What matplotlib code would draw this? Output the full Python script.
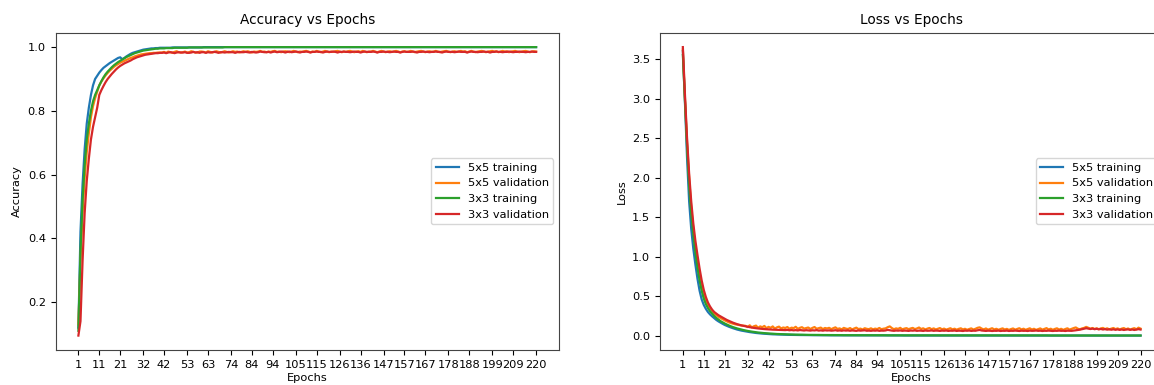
import numpy as np
import matplotlib
matplotlib.use("Agg")
import matplotlib.pyplot as plt

# epochs 1..220, tick labels as printed under both panels
epochs = np.arange(1, 221)
tick_labels = ["1", "11", "21", "32", "42", "53", "63", "74", "84", "94", "105",
               "115", "126", "136", "147", "157", "167", "178", "188", "199", "209", "220"]
series_names = ["5x5 training", "5x5 validation", "3x3 training", "3x3 validation"]

acc_5x5_train = [
    0.12, 0.42, 0.57, 0.68, 0.76, 0.81, 0.85, 0.88, 0.90, 0.91,
    0.92, 0.928, 0.935, 0.94, 0.945, 0.95, 0.954, 0.958, 0.962, 0.966,
    0.968, 0.962, 0.966, 0.971, 0.975, 0.979, 0.982, 0.984, 0.986, 0.988,
    0.99, 0.992, 0.993, 0.994, 0.995, 0.996, 0.996, 0.997, 0.997, 0.998,
    0.998, 0.998, 0.998, 0.998, 0.998, 0.999, 0.999, 0.999, 0.999, 0.999,
    0.999, 0.999, 0.999, 0.999, 0.999, 0.999, 0.999, 0.999, 0.999, 0.999,
    1.0, 1.0, 1.0, 1.0, 1.0, 1.0, 1.0, 1.0, 1.0, 1.0,
    1.0, 1.0, 1.0, 1.0, 1.0, 1.0, 1.0, 1.0, 1.0, 1.0,
    1.0, 1.0, 1.0, 1.0, 1.0, 1.0, 1.0, 1.0, 1.0, 1.0,
    1.0, 1.0, 1.0, 1.0, 1.0, 1.0, 1.0, 1.0, 1.0, 1.0,
    1.0, 1.0, 1.0, 1.0, 1.0, 1.0, 1.0, 1.0, 1.0, 1.0,
    1.0, 1.0, 1.0, 1.0, 1.0, 1.0, 1.0, 1.0, 1.0, 1.0,
    1.0, 1.0, 1.0, 1.0, 1.0, 1.0, 1.0, 1.0, 1.0, 1.0,
    1.0, 1.0, 1.0, 1.0, 1.0, 1.0, 1.0, 1.0, 1.0, 1.0,
    1.0, 1.0, 1.0, 1.0, 1.0, 1.0, 1.0, 1.0, 1.0, 1.0,
    1.0, 1.0, 1.0, 1.0, 1.0, 1.0, 1.0, 1.0, 1.0, 1.0,
    1.0, 1.0, 1.0, 1.0, 1.0, 1.0, 1.0, 1.0, 1.0, 1.0,
    1.0, 1.0, 1.0, 1.0, 1.0, 1.0, 1.0, 1.0, 1.0, 1.0,
    1.0, 1.0, 1.0, 1.0, 1.0, 1.0, 1.0, 1.0, 1.0, 1.0,
    1.0, 1.0, 1.0, 1.0, 1.0, 1.0, 1.0, 1.0, 1.0, 1.0,
    1.0, 1.0, 1.0, 1.0, 1.0, 1.0, 1.0, 1.0, 1.0, 1.0,
    1.0, 1.0, 1.0, 1.0, 1.0, 1.0, 1.0, 1.0, 1.0, 1.0,
]

acc_5x5_val = [
    0.13, 0.33, 0.48, 0.59, 0.67, 0.73, 0.78, 0.815, 0.84, 0.86,
    0.88, 0.892, 0.902, 0.911, 0.919, 0.926, 0.932, 0.938, 0.943, 0.947,
    0.951, 0.954, 0.957, 0.96, 0.963, 0.966, 0.968, 0.971, 0.973, 0.975,
    0.977, 0.978, 0.979, 0.98, 0.981, 0.981, 0.982, 0.982, 0.983, 0.983,
    0.983, 0.985, 0.982, 0.986, 0.984, 0.982, 0.985, 0.987, 0.984, 0.983,
    0.984, 0.986, 0.983, 0.984, 0.987, 0.985, 0.983, 0.983, 0.986, 0.986,
    0.985, 0.983, 0.987, 0.985, 0.983, 0.985, 0.987, 0.985, 0.983, 0.985,
    0.987, 0.985, 0.983, 0.985, 0.987, 0.985, 0.986, 0.983, 0.985, 0.987,
    0.985, 0.987, 0.985, 0.983, 0.986, 0.985, 0.986, 0.988, 0.985, 0.986,
    0.984, 0.986, 0.985, 0.987, 0.988, 0.985, 0.986, 0.984, 0.986, 0.987,
    0.986, 0.984, 0.986, 0.988, 0.986, 0.984, 0.986, 0.985, 0.987, 0.988,
    0.986, 0.984, 0.986, 0.985, 0.988, 0.986, 0.984, 0.986, 0.988, 0.986,
    0.984, 0.986, 0.985, 0.987, 0.988, 0.986, 0.984, 0.986, 0.985, 0.987,
    0.988, 0.986, 0.984, 0.986, 0.987, 0.985, 0.988, 0.986, 0.984, 0.986,
    0.986, 0.988, 0.986, 0.984, 0.986, 0.988, 0.986, 0.984, 0.986, 0.987,
    0.985, 0.986, 0.988, 0.986, 0.984, 0.986, 0.987, 0.985, 0.986, 0.988,
    0.986, 0.984, 0.986, 0.987, 0.988, 0.986, 0.984, 0.986, 0.987, 0.985,
    0.986, 0.988, 0.986, 0.984, 0.986, 0.987, 0.988, 0.986, 0.984, 0.986,
    0.987, 0.985, 0.986, 0.988, 0.986, 0.987, 0.984, 0.986, 0.988, 0.986,
    0.984, 0.986, 0.987, 0.988, 0.986, 0.984, 0.986, 0.987, 0.988, 0.986,
    0.987, 0.984, 0.986, 0.988, 0.986, 0.987, 0.984, 0.986, 0.987, 0.988,
    0.986, 0.984, 0.986, 0.987, 0.988, 0.986, 0.984, 0.986, 0.987, 0.986,
]

acc_3x3_train = [
    0.11, 0.36, 0.52, 0.63, 0.71, 0.76, 0.80, 0.83, 0.85, 0.865,
    0.88, 0.893, 0.905, 0.915, 0.923, 0.93, 0.937, 0.943, 0.948, 0.953,
    0.957, 0.961, 0.965, 0.969, 0.972, 0.975, 0.978, 0.981, 0.983, 0.985,
    0.987, 0.989, 0.99, 0.991, 0.992, 0.993, 0.994, 0.995, 0.995, 0.996,
    0.996, 0.996, 0.997, 0.997, 0.997, 0.997, 0.998, 0.998, 0.998, 0.998,
    0.998, 0.998, 0.998, 0.999, 0.999, 0.999, 0.999, 0.999, 0.999, 0.999,
    0.999, 0.999, 0.999, 0.999, 0.999, 0.999, 0.999, 0.999, 0.999, 0.999,
    1.0, 1.0, 1.0, 1.0, 1.0, 1.0, 1.0, 1.0, 1.0, 1.0,
    1.0, 1.0, 1.0, 1.0, 1.0, 1.0, 1.0, 1.0, 1.0, 1.0,
    1.0, 1.0, 1.0, 1.0, 1.0, 1.0, 1.0, 1.0, 1.0, 1.0,
    1.0, 1.0, 1.0, 1.0, 1.0, 1.0, 1.0, 1.0, 1.0, 1.0,
    1.0, 1.0, 1.0, 1.0, 1.0, 1.0, 1.0, 1.0, 1.0, 1.0,
    1.0, 1.0, 1.0, 1.0, 1.0, 1.0, 1.0, 1.0, 1.0, 1.0,
    1.0, 1.0, 1.0, 1.0, 1.0, 1.0, 1.0, 1.0, 1.0, 1.0,
    1.0, 1.0, 1.0, 1.0, 1.0, 1.0, 1.0, 1.0, 1.0, 1.0,
    1.0, 1.0, 1.0, 1.0, 1.0, 1.0, 1.0, 1.0, 1.0, 1.0,
    1.0, 1.0, 1.0, 1.0, 1.0, 1.0, 1.0, 1.0, 1.0, 1.0,
    1.0, 1.0, 1.0, 1.0, 1.0, 1.0, 1.0, 1.0, 1.0, 1.0,
    1.0, 1.0, 1.0, 1.0, 1.0, 1.0, 1.0, 1.0, 1.0, 1.0,
    1.0, 1.0, 1.0, 1.0, 1.0, 1.0, 1.0, 1.0, 1.0, 1.0,
    1.0, 1.0, 1.0, 1.0, 1.0, 1.0, 1.0, 1.0, 1.0, 1.0,
    1.0, 1.0, 1.0, 1.0, 1.0, 1.0, 1.0, 1.0, 1.0, 1.0,
]

acc_3x3_val = [
    0.095, 0.14, 0.33, 0.48, 0.58, 0.65, 0.71, 0.75, 0.78, 0.81,
    0.85, 0.865, 0.878, 0.89, 0.90, 0.908, 0.916, 0.923, 0.93, 0.936,
    0.941, 0.945, 0.949, 0.952, 0.955, 0.958, 0.962, 0.965, 0.968, 0.97,
    0.972, 0.974, 0.976, 0.977, 0.978, 0.979, 0.98, 0.981, 0.981, 0.982,
    0.982, 0.983, 0.981, 0.983, 0.984, 0.983, 0.981, 0.983, 0.984, 0.983,
    0.983, 0.984, 0.982, 0.982, 0.983, 0.985, 0.983, 0.984, 0.982, 0.984,
    0.984, 0.982, 0.984, 0.983, 0.984, 0.985, 0.984, 0.982, 0.984, 0.984,
    0.983, 0.984, 0.985, 0.984, 0.984, 0.982, 0.984, 0.985, 0.984, 0.984,
    0.985, 0.984, 0.983, 0.985, 0.984, 0.983, 0.984, 0.986, 0.985, 0.984,
    0.984, 0.985, 0.983, 0.985, 0.986, 0.984, 0.985, 0.986, 0.985, 0.983,
    0.985, 0.986, 0.984, 0.985, 0.986, 0.985, 0.983, 0.985, 0.985, 0.986,
    0.985, 0.983, 0.985, 0.985, 0.986, 0.985, 0.985, 0.983, 0.985, 0.986,
    0.985, 0.985, 0.986, 0.985, 0.983, 0.985, 0.985, 0.986, 0.985, 0.985,
    0.984, 0.985, 0.986, 0.985, 0.985, 0.983, 0.985, 0.986, 0.985, 0.985,
    0.985, 0.986, 0.985, 0.983, 0.985, 0.985, 0.986, 0.985, 0.985, 0.984,
    0.985, 0.986, 0.985, 0.985, 0.983, 0.985, 0.986, 0.985, 0.985, 0.985,
    0.986, 0.985, 0.983, 0.985, 0.985, 0.986, 0.985, 0.985, 0.984, 0.985,
    0.985, 0.986, 0.985, 0.985, 0.983, 0.985, 0.986, 0.985, 0.985, 0.985,
    0.984, 0.985, 0.986, 0.985, 0.985, 0.985, 0.983, 0.985, 0.986, 0.985,
    0.985, 0.984, 0.985, 0.985, 0.986, 0.985, 0.985, 0.983, 0.985, 0.985,
    0.986, 0.985, 0.985, 0.984, 0.985, 0.985, 0.986, 0.985, 0.984, 0.985,
    0.985, 0.986, 0.985, 0.985, 0.984, 0.985, 0.985, 0.986, 0.985, 0.985,
]

loss_5x5_train = [
    3.6, 2.95, 2.25, 1.7, 1.35, 1.1, 0.9, 0.72, 0.57, 0.46,
    0.39, 0.34, 0.3, 0.27, 0.245, 0.222, 0.2, 0.182, 0.166, 0.151,
    0.137, 0.125, 0.114, 0.104, 0.095, 0.086, 0.078, 0.071, 0.065, 0.06,
    0.055, 0.05, 0.046, 0.042, 0.038, 0.035, 0.032, 0.029, 0.027, 0.025,
    0.023, 0.021, 0.019, 0.018, 0.017, 0.016, 0.015, 0.014, 0.013, 0.012,
    0.012, 0.011, 0.011, 0.010, 0.010, 0.009, 0.009, 0.009, 0.008, 0.008,
    0.008, 0.007, 0.007, 0.007, 0.007, 0.006, 0.006, 0.006, 0.006, 0.006,
    0.005, 0.005, 0.005, 0.005, 0.005, 0.005, 0.005, 0.005, 0.005, 0.005,
    0.005, 0.005, 0.005, 0.005, 0.005, 0.004, 0.004, 0.004, 0.004, 0.004,
    0.004, 0.004, 0.004, 0.004, 0.004, 0.004, 0.004, 0.004, 0.004, 0.004,
    0.004, 0.004, 0.004, 0.004, 0.004, 0.003, 0.003, 0.003, 0.003, 0.003,
    0.003, 0.003, 0.003, 0.003, 0.003, 0.003, 0.003, 0.003, 0.003, 0.003,
    0.003, 0.003, 0.003, 0.003, 0.003, 0.003, 0.003, 0.003, 0.003, 0.003,
    0.003, 0.003, 0.003, 0.003, 0.003, 0.003, 0.003, 0.003, 0.003, 0.003,
    0.003, 0.003, 0.003, 0.003, 0.003, 0.003, 0.003, 0.003, 0.003, 0.003,
    0.002, 0.002, 0.002, 0.002, 0.002, 0.002, 0.002, 0.002, 0.002, 0.002,
    0.002, 0.002, 0.002, 0.002, 0.002, 0.002, 0.002, 0.002, 0.002, 0.002,
    0.002, 0.002, 0.002, 0.002, 0.002, 0.002, 0.002, 0.002, 0.002, 0.002,
    0.002, 0.002, 0.002, 0.002, 0.002, 0.002, 0.002, 0.002, 0.002, 0.002,
    0.002, 0.002, 0.002, 0.002, 0.002, 0.002, 0.002, 0.002, 0.002, 0.002,
    0.002, 0.002, 0.002, 0.002, 0.002, 0.002, 0.002, 0.002, 0.002, 0.002,
    0.002, 0.002, 0.002, 0.002, 0.002, 0.002, 0.002, 0.002, 0.002, 0.002,
]

loss_5x5_val = [
    3.62, 3.0, 2.45, 2.0, 1.62, 1.35, 1.12, 0.93, 0.77, 0.63,
    0.53, 0.45, 0.39, 0.35, 0.315, 0.285, 0.26, 0.24, 0.225, 0.21,
    0.195, 0.182, 0.17, 0.16, 0.152, 0.145, 0.14, 0.135, 0.13, 0.128,
    0.125, 0.11, 0.132, 0.105, 0.12, 0.128, 0.1, 0.118, 0.108, 0.124,
    0.095, 0.112, 0.1, 0.118, 0.09, 0.106, 0.115, 0.092, 0.104, 0.098,
    0.11, 0.088, 0.102, 0.096, 0.113, 0.087, 0.1, 0.108, 0.09, 0.097,
    0.104, 0.085, 0.099, 0.11, 0.088, 0.095, 0.103, 0.084, 0.098, 0.092,
    0.1, 0.083, 0.096, 0.106, 0.086, 0.093, 0.081, 0.099, 0.09, 0.085,
    0.097, 0.08, 0.092, 0.102, 0.084, 0.09, 0.078, 0.095, 0.087, 0.083,
    0.094, 0.08, 0.09, 0.084, 0.098, 0.082, 0.089, 0.093, 0.108, 0.118,
    0.097, 0.082, 0.093, 0.087, 0.1, 0.081, 0.09, 0.096, 0.083, 0.092,
    0.099, 0.084, 0.092, 0.104, 0.085, 0.094, 0.079, 0.09, 0.098, 0.082,
    0.093, 0.079, 0.088, 0.097, 0.081, 0.09, 0.077, 0.086, 0.095, 0.08,
    0.089, 0.076, 0.087, 0.094, 0.079, 0.088, 0.075, 0.085, 0.093, 0.078,
    0.088, 0.1, 0.106, 0.09, 0.08, 0.092, 0.077, 0.086, 0.095, 0.079,
    0.088, 0.075, 0.085, 0.093, 0.078, 0.087, 0.074, 0.084, 0.092, 0.077,
    0.086, 0.095, 0.079, 0.089, 0.075, 0.085, 0.094, 0.078, 0.088, 0.074,
    0.084, 0.093, 0.077, 0.087, 0.096, 0.079, 0.089, 0.075, 0.086, 0.094,
    0.078, 0.088, 0.074, 0.085, 0.094, 0.077, 0.087, 0.097, 0.105, 0.088,
    0.082, 0.093, 0.099, 0.112, 0.1, 0.089, 0.098, 0.085, 0.094, 0.083,
    0.092, 0.099, 0.084, 0.094, 0.081, 0.09, 0.098, 0.083, 0.093, 0.08,
    0.09, 0.097, 0.082, 0.092, 0.079, 0.088, 0.096, 0.081, 0.102, 0.09,
]

loss_3x3_train = [
    3.55, 2.98, 2.4, 1.9, 1.55, 1.28, 1.05, 0.86, 0.7, 0.57,
    0.47, 0.4, 0.35, 0.31, 0.28, 0.25, 0.225, 0.205, 0.185, 0.17,
    0.155, 0.142, 0.13, 0.119, 0.109, 0.1, 0.092, 0.085, 0.078, 0.072,
    0.066, 0.061, 0.056, 0.052, 0.048, 0.044, 0.041, 0.038, 0.035, 0.033,
    0.031, 0.029, 0.027, 0.025, 0.024, 0.022, 0.021, 0.02, 0.019, 0.018,
    0.017, 0.016, 0.016, 0.015, 0.014, 0.014, 0.013, 0.013, 0.012, 0.012,
    0.011, 0.011, 0.011, 0.010, 0.010, 0.010, 0.009, 0.009, 0.009, 0.009,
    0.008, 0.008, 0.008, 0.008, 0.008, 0.008, 0.007, 0.007, 0.007, 0.007,
    0.007, 0.007, 0.007, 0.007, 0.006, 0.006, 0.006, 0.006, 0.006, 0.006,
    0.006, 0.006, 0.006, 0.006, 0.006, 0.006, 0.006, 0.005, 0.005, 0.005,
    0.005, 0.005, 0.005, 0.005, 0.005, 0.005, 0.005, 0.005, 0.005, 0.005,
    0.005, 0.005, 0.005, 0.005, 0.005, 0.005, 0.005, 0.005, 0.005, 0.005,
    0.005, 0.005, 0.005, 0.005, 0.005, 0.004, 0.004, 0.004, 0.004, 0.004,
    0.004, 0.004, 0.004, 0.004, 0.004, 0.004, 0.004, 0.004, 0.004, 0.004,
    0.004, 0.004, 0.004, 0.004, 0.004, 0.004, 0.004, 0.004, 0.004, 0.004,
    0.004, 0.004, 0.004, 0.004, 0.004, 0.004, 0.004, 0.004, 0.004, 0.004,
    0.004, 0.004, 0.004, 0.004, 0.004, 0.004, 0.004, 0.004, 0.004, 0.004,
    0.004, 0.004, 0.004, 0.004, 0.004, 0.003, 0.003, 0.003, 0.003, 0.003,
    0.003, 0.003, 0.003, 0.003, 0.003, 0.003, 0.003, 0.003, 0.003, 0.003,
    0.003, 0.003, 0.003, 0.003, 0.003, 0.003, 0.003, 0.003, 0.003, 0.003,
    0.003, 0.003, 0.003, 0.003, 0.003, 0.003, 0.003, 0.003, 0.003, 0.003,
    0.003, 0.003, 0.003, 0.003, 0.003, 0.003, 0.003, 0.003, 0.003, 0.003,
]

loss_3x3_val = [
    3.65, 3.05, 2.5, 2.05, 1.7, 1.42, 1.2, 1.02, 0.85, 0.7,
    0.58, 0.49, 0.42, 0.37, 0.33, 0.3, 0.28, 0.26, 0.245, 0.23,
    0.215, 0.2, 0.188, 0.176, 0.165, 0.155, 0.146, 0.138, 0.131, 0.125,
    0.119, 0.113, 0.108, 0.103, 0.099, 0.095, 0.092, 0.089, 0.086, 0.084,
    0.082, 0.08, 0.079, 0.077, 0.076, 0.075, 0.074, 0.073, 0.072, 0.071,
    0.074, 0.069, 0.072, 0.068, 0.071, 0.067, 0.072, 0.069, 0.066, 0.07,
    0.068, 0.065, 0.069, 0.067, 0.071, 0.065, 0.068, 0.064, 0.069, 0.066,
    0.068, 0.064, 0.066, 0.07, 0.064, 0.067, 0.063, 0.068, 0.065, 0.067,
    0.063, 0.067, 0.065, 0.062, 0.067, 0.064, 0.066, 0.069, 0.063, 0.065,
    0.062, 0.066, 0.064, 0.067, 0.062, 0.065, 0.064, 0.067, 0.074, 0.069,
    0.065, 0.062, 0.066, 0.064, 0.067, 0.062, 0.065, 0.064, 0.061, 0.066,
    0.064, 0.067, 0.062, 0.065, 0.064, 0.061, 0.066, 0.063, 0.064, 0.067,
    0.062, 0.065, 0.064, 0.061, 0.065, 0.063, 0.066, 0.061, 0.064, 0.063,
    0.066, 0.061, 0.064, 0.063, 0.06, 0.065, 0.063, 0.066, 0.061, 0.064,
    0.063, 0.069, 0.073, 0.066, 0.063, 0.061, 0.064, 0.063, 0.06, 0.063,
    0.062, 0.065, 0.06, 0.063, 0.062, 0.065, 0.06, 0.063, 0.062, 0.065,
    0.063, 0.06, 0.064, 0.062, 0.063, 0.06, 0.065, 0.062, 0.063, 0.066,
    0.062, 0.064, 0.06, 0.063, 0.062, 0.065, 0.063, 0.06, 0.063, 0.062,
    0.065, 0.062, 0.063, 0.06, 0.064, 0.063, 0.062, 0.065, 0.069, 0.073,
    0.077, 0.083, 0.089, 0.095, 0.09, 0.085, 0.09, 0.083, 0.088, 0.081,
    0.086, 0.079, 0.084, 0.077, 0.082, 0.076, 0.081, 0.075, 0.08, 0.074,
    0.079, 0.073, 0.078, 0.08, 0.074, 0.079, 0.073, 0.078, 0.083, 0.078,
]

colors = ["#1f77b4", "#ff7f0e", "#2ca02c", "#d62728"]

plt.rcParams["font.family"] = "DejaVu Sans"
plt.rcParams["font.size"] = 8.2

fig = plt.figure(figsize=(11.54, 3.85), dpi=100)
ax1 = fig.add_axes([0.0481, 0.0909, 0.4363, 0.8242])
ax2 = fig.add_axes([0.5719, 0.0909, 0.4363, 0.8242])

panels = [
    (ax1, [acc_5x5_train, acc_5x5_val, acc_3x3_train, acc_3x3_val], "Accuracy vs Epochs", "Accuracy"),
    (ax2, [loss_5x5_train, loss_5x5_val, loss_3x3_train, loss_3x3_val], "Loss vs Epochs", "Loss"),
]

tick_pos = [int(t) for t in tick_labels]

for ax, data, title, ylabel in panels:
    for vals, name, col in zip(data, series_names, colors):
        ax.plot(epochs, vals, color=col, lw=1.6, label=name)
    ax.set_title(title, fontsize=9.8)
    ax.set_xlabel("Epochs", labelpad=2)
    ax.set_ylabel(ylabel)
    ax.set_xticks(tick_pos)
    ax.set_xticklabels(tick_labels)
    ax.tick_params(labelsize=8.2)
    for sp in ax.spines.values():
        sp.set_color("#444444")
    ax.legend(loc="center right", fontsize=8.2)

fig.savefig("out.png", dpi=100)
